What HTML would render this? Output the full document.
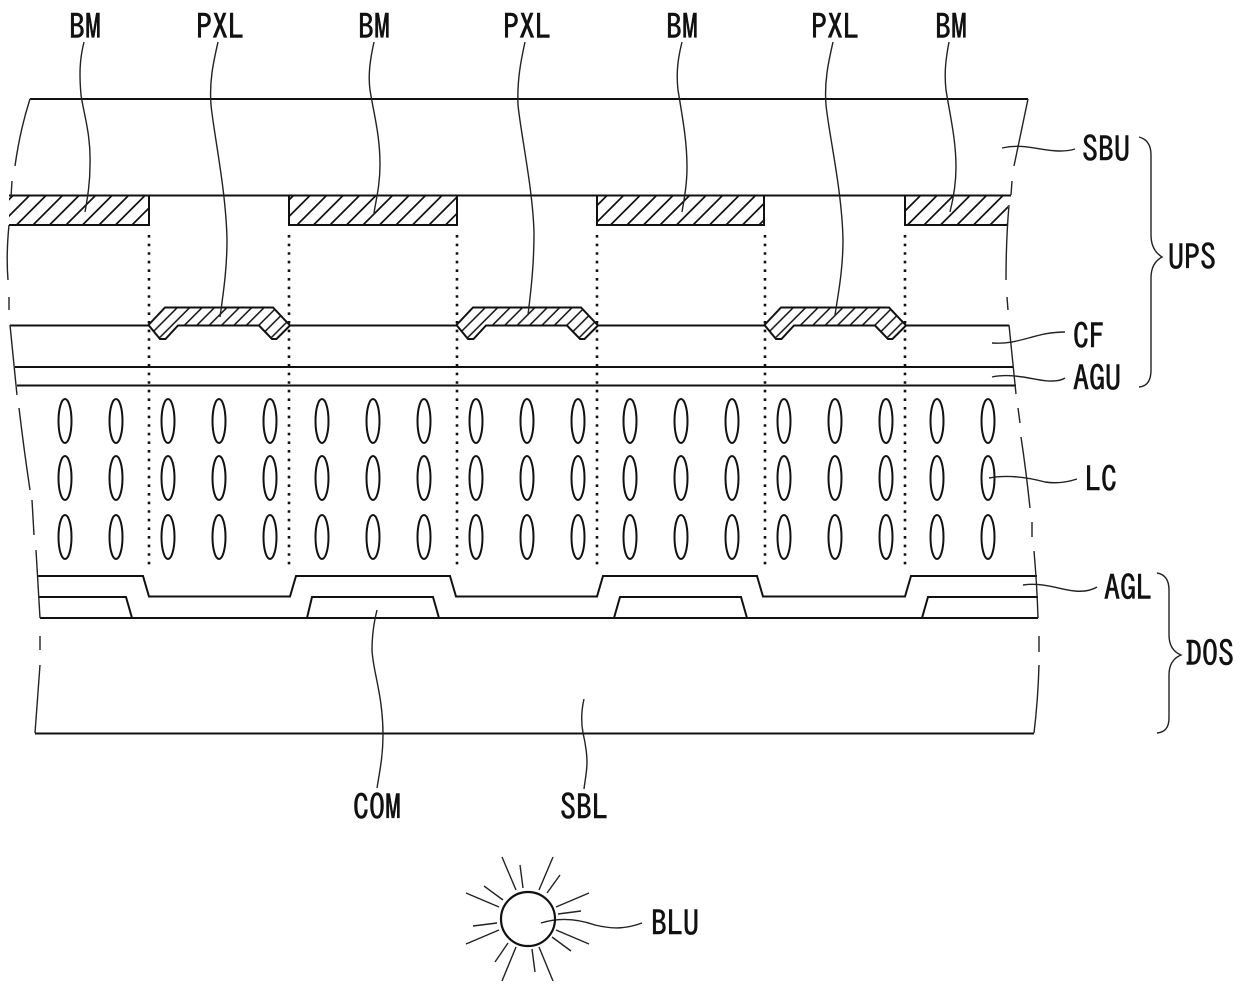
<!DOCTYPE html>
<html><head><meta charset="utf-8"><style>
html,body{margin:0;padding:0;background:#fff}
svg{display:block}
text{font-family:"IPAGothic","Liberation Sans",sans-serif;font-size:32px;fill:#111;stroke:#111;stroke-width:.5}
.t{fill:none;stroke:#111;stroke-width:2}
.n{fill:none;stroke:#222;stroke-width:1.4}
.d{fill:none;stroke:#111;stroke-width:2.6;stroke-dasharray:2.6 6}
</style></head><body>
<svg width="1240" height="986" viewBox="0 0 1240 986" xmlns="http://www.w3.org/2000/svg">
<defs>
<pattern id="h" patternUnits="userSpaceOnUse" width="16.5" height="16.5">
<rect width="16.5" height="16.5" fill="#fff"/><path d="M12.500 -2L-2 12.500M29 -2L-2 29" stroke="#111" stroke-width="1.7"/>
</pattern>
<pattern id="k" patternUnits="userSpaceOnUse" width="12.4" height="12.4">
<rect width="12.4" height="12.4" fill="#fff"/><path d="M3.300 -2L-2 3.300M15.700 -2L-2 15.700M28.100 -2L-2 28.100" stroke="#111" stroke-width="1.5"/>
</pattern>
<g id="r">
<ellipse cx="65" cy="0" rx="6.5" ry="22"/><ellipse cx="116" cy="0" rx="6.5" ry="22"/><ellipse cx="168" cy="0" rx="6.5" ry="22"/><ellipse cx="219" cy="0" rx="6.5" ry="22"/><ellipse cx="270" cy="0" rx="6.5" ry="22"/><ellipse cx="322" cy="0" rx="6.5" ry="22"/><ellipse cx="373" cy="0" rx="6.5" ry="22"/><ellipse cx="424" cy="0" rx="6.5" ry="22"/><ellipse cx="476" cy="0" rx="6.5" ry="22"/><ellipse cx="527" cy="0" rx="6.5" ry="22"/><ellipse cx="578" cy="0" rx="6.5" ry="22"/><ellipse cx="630" cy="0" rx="6.5" ry="22"/><ellipse cx="681" cy="0" rx="6.5" ry="22"/><ellipse cx="732" cy="0" rx="6.5" ry="22"/><ellipse cx="784" cy="0" rx="6.5" ry="22"/><ellipse cx="835" cy="0" rx="6.5" ry="22"/><ellipse cx="886" cy="0" rx="6.5" ry="22"/><ellipse cx="937" cy="0" rx="6.5" ry="22"/><ellipse cx="988" cy="0" rx="6.5" ry="22"/>
</g>
<path id="p" d="M148.500 325L165 307.500H273L290 325.500L276.500 339H272L259 325.500H178L165.500 339H160Z"/>
</defs>
<!-- dotted -->
<g class="d">
<path d="M149 235V568"/><path d="M289 235V568"/><path d="M457 235V568"/><path d="M597 235V568"/><path d="M765 235V568"/><path d="M905 235V568"/>
</g>
<!-- horizontal layers -->
<g class="t">
<path d="M30 99H1028"/><path d="M11 195.500H1011"/>
<path d="M10 325.500H149M289 325.500H457M597 325.500H765M905 325.500H1009"/>
<path d="M15 367H1013"/><path d="M17 385.500H1016"/>
<path d="M38 576H143L149 596.500H290L296 576H450L456 596.500H597L603 576H757L763 596.500H905L911 576H1037"/>
<path d="M39 597H126L132 618"/>
<path d="M307 618L312 597H433L439 618"/><path d="M614 618L620 597H741L747 618"/><path d="M922 618L928 597H1038"/>
<path d="M40 618H1038"/><path d="M35 733.500H1034"/>
</g>
<!-- hatched -->
<g fill="url(#h)" stroke="#111" stroke-width="2">
<path d="M9 195.500H149V225H9"/>
<rect x="289" y="195.500" width="168" height="29.500"/>
<rect x="597" y="195.500" width="167" height="29.500"/>
<path d="M1008 195.500H905V225H1008"/>
</g>
<g fill="url(#k)" stroke="#111" stroke-width="2">
<use href="#p"/><use href="#p" x="308"/><use href="#p" x="616"/>
</g>
<!-- side breaks -->
<g class="n">
<path d="M30 99Q20 130 15 166"/><path d="M12 181L11 197"/><path d="M9 225Q6 255 8 280"/><path d="M9 297V310"/>
<path d="M10 325L17 395"/><path d="M19 408Q24 450 30 490"/><path d="M32 500L34 535"/><path d="M36 550L40 618"/><path d="M40 636V650"/><path d="M40 665L35 733"/>
<path d="M1028 99L1014 166"/><path d="M1012 181L1011 195"/><path d="M1009 205Q1006 240 1006 280"/><path d="M1007 297L1008 310"/><path d="M1009 325L1016 394"/><path d="M1018 408L1020 423"/><path d="M1021 437Q1026 470 1030 508"/><path d="M1032 522V537"/><path d="M1034 551Q1037 585 1038 618"/><path d="M1039 636V652"/><path d="M1039 665Q1038 700 1034 733"/>
</g>
<!-- LC -->
<g fill="none" stroke="#111" stroke-width="2">
<use href="#r" y="421"/><use href="#r" y="478"/><use href="#r" y="537"/>
</g>
<!-- leaders -->
<g class="n">
<path d="M84 42C80 58 79 72 81 95C84 115 91 135 90 165C90 185 87 200 85 212"/>
<path d="M218 42C214 60 209 80 211 105C214 135 226 190 227 240C227 270 223 295 220 317"/>
<path d="M374 42C370 60 368 75 370 90C374 115 380 135 380 165C380 185 376 200 374 213"/>
<path d="M525 42C521 60 517 80 518 105C521 135 533 190 534 233C534 265 531 290 528 315"/>
<path d="M682 42C678 58 676 72 678 90C682 115 687 140 687 167C687 185 684 200 682 212"/>
<path d="M833 42C829 60 824 80 826 105C829 135 842 190 843 240C843 270 838 295 835 315"/>
<path d="M949 42C946 58 944 72 946 90C950 115 956 140 956 167C956 185 953 200 950 212"/>
<path d="M1002 148C1025 143 1040 151 1060 151C1068 151 1072 150 1075 149"/>
<path d="M992 343C1020 345 1035 332 1065 332"/>
<path d="M992 377C1015 372 1040 382 1052 381C1058 381 1062 380 1065 378"/>
<path d="M989 478C1010 474 1030 478 1045 482C1058 484 1068 482 1077 479"/>
<path d="M1023 585C1045 582 1060 590 1075 591C1085 592 1092 590 1097 587"/>
<path d="M377 610C374 622 372 635 372 650C373 672 383 695 383 735C383 755 380 770 377 788"/>
<path d="M584 699C581 712 581 722 583 733C586 745 587 757 587 762C587 772 585 780 584 789"/>
<path d="M541 923C560 917 578 919 595 925C615 930 628 928 642 923"/>
<path d="M1139 137Q1151 140 1151 155V235Q1151 250 1162 257Q1151 263 1151 278V370Q1151 386 1139 387"/>
<path d="M1157 573Q1169 575 1169 590V635Q1169 650 1181 655Q1169 660 1169 675V718Q1169 732 1157 733"/>
</g>
<!-- BLU -->
<circle cx="528" cy="919" r="27" fill="none" stroke="#111" stroke-width="2.2"/>
<path class="n" d="M502 857L516 890M520 865L523 888M553 857L539 890M560 875L547 893M484 886L503 900M466 893L499 907M589 893L556 907M581 911L558 914M473 926L497 923M466 944L499 930M589 944L556 930M571 951L552 937M495 962L508 943M502 981L516 947M535 972L532 949M553 981L539 947"/>
<!-- labels -->
<g>
<text transform="translate(69 39) scale(1 1.08)">BM</text><text transform="translate(196 39) scale(1 1.08)">PXL</text><text transform="translate(358 39) scale(1 1.08)">BM</text><text transform="translate(503 39) scale(1 1.08)">PXL</text><text transform="translate(666 39) scale(1 1.08)">BM</text><text transform="translate(811 39) scale(1 1.08)">PXL</text><text transform="translate(935 39) scale(1 1.08)">BM</text>
<text transform="translate(1082 161.500) scale(1 1.08)">SBU</text><text transform="translate(1168 269.500) scale(1 1.08)">UPS</text><text transform="translate(1073 348.500) scale(1 1.08)">CF</text><text transform="translate(1073 390.500) scale(1 1.08)">AGU</text><text transform="translate(1085 491.500) scale(1 1.08)">LC</text><text transform="translate(1104 600) scale(1 1.08)">AGL</text><text transform="translate(1186 666) scale(1 1.08)">DOS</text>
<text transform="translate(353 819.500) scale(1 1.08)">COM</text><text transform="translate(560 819.500) scale(1 1.08)">SBL</text><text transform="translate(651 935.500) scale(1 1.08)">BLU</text>
</g>
</svg>
</body></html>
